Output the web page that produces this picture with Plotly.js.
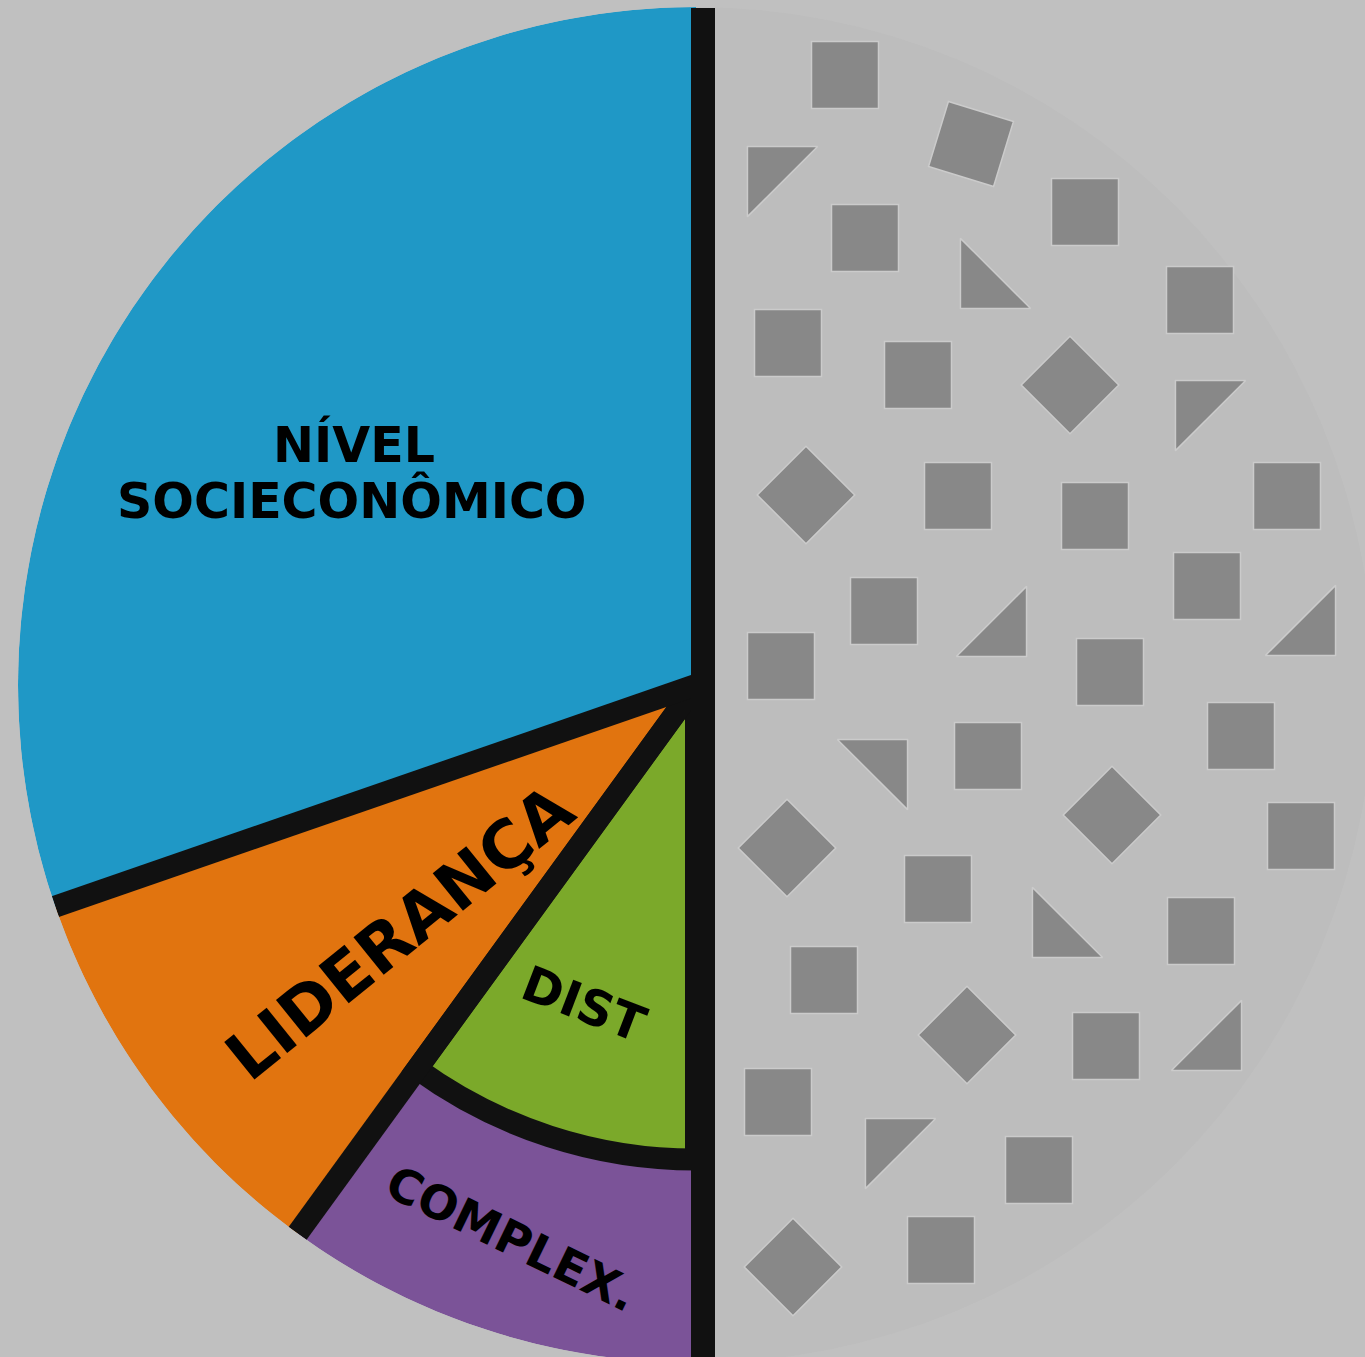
<!DOCTYPE html>
<html><head><meta charset="utf-8">
<script src="https://cdn.plot.ly/plotly-3.0.1.min.js"></script>
<style>html,body{margin:0;padding:0;overflow:hidden;background:#c0c0c0;} #chart{width:1400px;height:1400px;}</style>
</head><body><div id="chart"></div>
<script>
// ---- data (clockwise from 12 o'clock) ----
const sectorNames  = ['Outros fatores', 'Dist. + Complex.', 'Liderança', 'Nível socioeconômico'];
const sectorShares = [50, 10, 9.7, 30.3];
const splitNames   = ['DIST', 'COMPLEX.'];
const splitShares  = [4.9, 5.1];          // inner / outer part of the "Dist. + Complex." sector
const labelNSE     = ['NÍVEL', 'SOCIECONÔMICO'];
const labelLider   = 'LIDERANÇA';

// ---- styles / geometry ----
const W = 1400, H = 1400, ML = 18, MT = 7, PW = 1356, PH = 1356;
const CX = ML + PW / 2, CY = MT + PH / 2, R = PW / 2;
const colors = {'Outros fatores':'#bdbdbd','Liderança':'#e1740f','Nível socioeconômico':'#1f98c6'};
const greenC = '#7ba92a', purpleC = '#7b5398', lineC = '#111111';

// decorative texture of the unexplained half (pixel centre, type)
const texture = [
 ['square',845,75],['tilt',971,144],['square',865,238],['square',1085,212],['square',1200,300],
 ['square',788,343],['square',918,375],['square',958,496],['square',1095,516],['square',1287,496],
 ['square',884,611],['square',1207,586],['square',781,666],['square',1110,672],['square',988,756],
 ['square',1241,736],['square',1301,836],['square',938,889],['square',1201,931],['square',824,980],
 ['square',1106,1046],['square',778,1102],['square',1039,1170],['square',941,1250],
 ['diamond',1070,385],['diamond',806,495],['diamond',1112,815],['diamond',787,848],['diamond',967,1035],['diamond',793,1267],
 ['triangle-nw',782,181],['triangle-sw',995,274],['triangle-nw',1210,415],['triangle-se',992,622],['triangle-se',1301,621],
 ['triangle-ne',873,774],['triangle-sw',1067,923],['triangle-se',1207,1036],['triangle-nw',900,1153]
];

// ---- build ----
const total = sectorShares.reduce((a,b)=>a+b,0);
let cum = 0; const start = [], width = [];
sectorShares.forEach(v => { start.push(cum/total*360); width.push(v/total*360); cum += v; });

const traces = [];
sectorNames.forEach((n,i) => {
  if (n === 'Dist. + Complex.') return;
  traces.push({type:'barpolar', name:n, r:[1], base:[0], theta:[start[i]+width[i]/2], width:[width[i]],
    marker:{color:colors[n], line:{width:0}}, hoverinfo:'name'});
});
const iDC = sectorNames.indexOf('Dist. + Complex.');
const rin = Math.sqrt(splitShares[0]/(splitShares[0]+splitShares[1]));
traces.push({type:'barpolar', name:splitNames[1], r:[1-rin], base:[rin], theta:[start[iDC]+width[iDC]/2], width:[width[iDC]],
  marker:{color:purpleC, line:{width:0}}, hoverinfo:'name'});
traces.push({type:'barpolar', name:splitNames[0], r:[rin], base:[0], theta:[start[iDC]+width[iDC]/2], width:[width[iDC]],
  marker:{color:greenC, line:{width:22, color:lineC}}, hoverinfo:'name'});

// radial separators between the left sectors
for (let i = 2; i < sectorNames.length; i++) {
  traces.push({type:'scatterpolar', mode:'lines', r:[0,1], theta:[start[i],start[i]],
    line:{color:lineC, width:22}, hoverinfo:'skip', showlegend:false});
}

// texture markers
const tr = [], tt = [], ts = [], tz = [], ta = [];
texture.forEach(([k,px,py]) => {
  let sym = k, size = 67, ang = 0;
  if (k === 'tilt') { sym = 'square'; size = 68; ang = 17; }
  if (k === 'diamond') { size = 75; }
  if (k.startsWith('triangle')) {
    size = 78; const rr = size*0.143;
    const d = k.slice(-2);
    px += rr * (d[1]==='e' ? 1 : -1);
    py += rr * (d[0]==='n' ? -1 : 1);
  }
  const ux = (px-CX)/R, uy = (py-CY)/R;
  tr.push(Math.hypot(ux,uy)); tt.push(Math.atan2(ux,-uy)*180/Math.PI);
  ts.push(sym); tz.push(size); ta.push(ang);
});
traces.push({type:'scatterpolar', mode:'markers', r:tr, theta:tt, hoverinfo:'skip', showlegend:false,
  marker:{symbol:ts, size:tz, angle:ta, color:'#888888', opacity:1, line:{width:1.5, color:'#cbcbcb'}}});

const px2x = px => (px-ML)/PW, py2y = py => 1-(py-MT)/PH;
const fnt = s => ({family:'DejaVu Sans, Verdana, sans-serif', size:s, color:'#000', weight:700});
const ann = (t,px,py,s,a) => ({text:t, x:px2x(px), y:py2y(py), xref:'paper', yref:'paper', showarrow:false,
  xanchor:'center', yanchor:'middle', font:fnt(s), textangle:a});

const layout = {
  width:W, height:H, margin:{l:ML, r:W-ML-PW, t:MT, b:H-MT-PH},
  paper_bgcolor:'#c0c0c0', plot_bgcolor:'#c0c0c0', showlegend:false,
  polar:{domain:{x:[0,1], y:[0,1]}, bgcolor:'rgba(0,0,0,0)',
    radialaxis:{range:[0,1], visible:false},
    angularaxis:{rotation:90, direction:'clockwise', visible:false}},
  shapes:[{type:'rect', xref:'paper', yref:'paper', x0:px2x(691), x1:px2x(715), y0:py2y(1400), y1:py2y(8),
    fillcolor:lineC, line:{width:0}, layer:'above'}],
  annotations:[
    ann(labelNSE[0],354,445,49,0), ann(labelNSE[1],352,501,49,0),
    ann(labelLider,400,932,66,-39),
    ann(splitNames[0],584,1004,49,21),
    ann(splitNames[1],512,1238,47,26)
  ]
};
Plotly.newPlot('chart', traces, layout, {staticPlot:true});
</script></body></html>
